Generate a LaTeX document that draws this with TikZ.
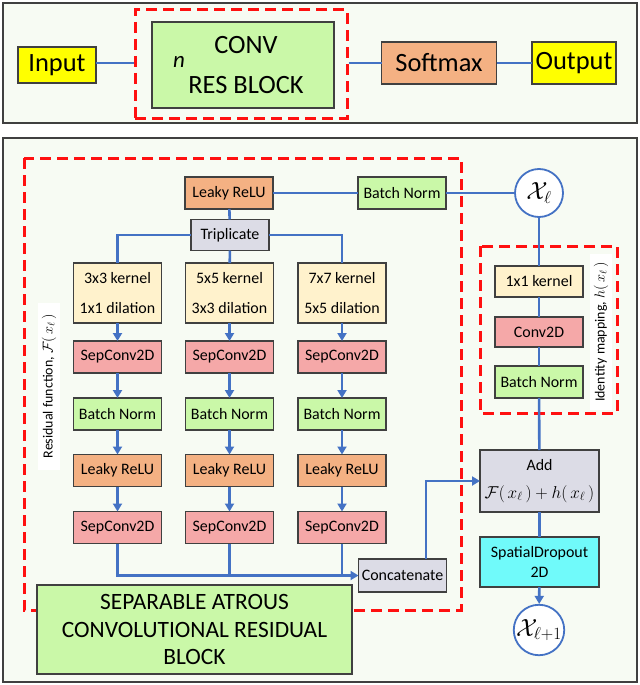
\documentclass[tikz,border=0pt]{standalone}
\usepackage{fontspec}
\setmainfont{Carlito}
\usetikzlibrary{arrows.meta}

\definecolor{cYellow}{HTML}{FFFF00}
\definecolor{cGreen}{HTML}{CAF8A8}
\definecolor{cOrange}{HTML}{F4B183}
\definecolor{cPink}{HTML}{F5A8A8}
\definecolor{cCream}{HTML}{FFF2CC}
\definecolor{cGray}{HTML}{DCDCE6}
\definecolor{cCyan}{HTML}{70FAFA}
\definecolor{cBlue}{HTML}{4472C4}
\definecolor{cRed}{HTML}{FF1010}
\definecolor{cPanel}{HTML}{F7FBF3}
\definecolor{cLine}{HTML}{404040}

\begin{document}
\begin{tikzpicture}[x=1bp,y=-1bp,
    panel/.style={draw=cLine,fill=cPanel,line width=1.6bp},
    box/.style={draw=cLine,line width=1.2bp,inner sep=0pt,outer sep=0pt,
        minimum width=88bp,minimum height=32bp,align=center,
        font=\fontsize{16}{18}\selectfont},
    bigbox/.style={box,font=\fontsize{26.5}{30}\selectfont},
    leaky/.style={box,fill=cOrange},
    sepconv/.style={box,fill=cPink},
    bnorm/.style={box,fill=cGreen},
    kernel/.style={box,fill=cCream,minimum height=60bp,
        font=\fontsize{16}{30}\selectfont},
    greybox/.style={box,fill=cGray},
    reddash/.style={draw=cRed,line width=3bp,dash pattern=on 11bp off 6bp},
    wire/.style={draw=cBlue,line width=2.6bp},
    flow/.style={wire,-{Triangle[length=8bp,width=9bp]}},
    xcircle/.style={circle,draw=cBlue,line width=1.8bp,fill=white,
        minimum size=48bp,inner sep=0pt,font=\fontsize{23}{24}\selectfont},
    sidelabel/.style={rotate=90,fill=white,inner sep=0pt,
        font=\fontsize{14}{16}\selectfont}]
    \useasboundingbox (0,0) rectangle (640,685);
    \fill[white] (0,0) rectangle (640,685);

    %% Top panel
    \draw[panel] (3,3) rectangle (637,123);
    \node[bigbox,fill=cYellow,minimum width=78bp,minimum height=36bp]
        (input) at (57,65) {Input};
    \node[bigbox,fill=cGreen,minimum width=182bp,minimum height=86bp,
        font=\fontsize{26.5}{40}\selectfont]
        (resblock) at (243,65) {\hspace*{6bp}CONV\\\hspace*{6bp}RES BLOCK};
    \node[font=\fontsize{23}{24}\selectfont\itshape] (nrep) at (179,62) {n};
    \node[reddash,minimum width=212bp,minimum height=108bp,inner sep=0pt]
        (resgroup) at (241,64) {};
    \node[bigbox,fill=cOrange,minimum width=115bp,minimum height=42bp]
        (softmax) at (439,63) {Softmax};
    \node[bigbox,fill=cYellow,minimum width=84bp,minimum height=42bp]
        (output) at (574,63) {Output};
    \draw[wire] (input.east |- softmax) -- (resgroup.west |- softmax);
    \draw[wire] (resgroup.east |- softmax) -- (softmax);
    \draw[wire] (softmax) -- (output);

    %% Bottom panel
    \draw[panel] (3,138) rectangle (637,682);
    \draw[reddash] (24,158) rectangle (461,610);
    \draw[reddash] (480,246) rectangle (617,413);

    %% Residual branch
    \node[leaky] (lrelu0) at (229,193) {Leaky ReLU};
    \node[bnorm] (bnorm0) at (402,193) {Batch Norm};
    \node[greybox,minimum width=78bp,minimum height=31bp] (trip) at (230,235) {Triplicate};
    \node[kernel] (k1) at (117.5,293) {3x3 kernel\\1x1 dilation};
    \node[kernel] (k2) at (229.5,293) {5x5 kernel\\3x3 dilation};
    \node[kernel] (k3) at (342,293) {7x7 kernel\\5x5 dilation};
    \foreach \c/\xpos in {1/117.5,2/229.5,3/342}{
        \node[sepconv] (sa\c) at (\xpos,357) {SepConv2D};
        \node[bnorm] (bn\c) at (\xpos,414) {Batch Norm};
        \node[leaky] (lr\c) at (\xpos,470.5) {Leaky ReLU};
        \node[sepconv] (sb\c) at (\xpos,527.5) {SepConv2D};
        \draw[flow] (k\c) -- (sa\c);
        \draw[flow] (sa\c) -- (bn\c);
        \draw[flow] (bn\c) -- (lr\c);
        \draw[flow] (lr\c) -- (sb\c);
    }
    \node[greybox,minimum width=88bp,minimum height=33bp] (concat) at (402.5,575.5) {Concatenate};
    \node[bigbox,fill=cGreen,minimum width=315bp,minimum height=89bp,
        font=\fontsize{23.5}{28}\selectfont]
        (sacrb) at (194.5,629.5) {SEPARABLE ATROUS\\CONVOLUTIONAL RESIDUAL\\BLOCK};
    \node[sidelabel,minimum width=167bp,minimum height=22bp]
        (reslabel) at (49,386) {Residual function, $\mathcal{F}(\,x_{\ell}\,)$};

    %% Identity branch
    \node[xcircle] (xl) at (539,193) {$\mathcal{X}_{\ell}$};
    \node[kernel,minimum height=31bp] (k0) at (539,281.5) {1x1 kernel};
    \node[sepconv,minimum height=30bp] (conv0) at (539,332) {Conv2D};
    \node[bnorm] (bn0) at (539,382) {Batch Norm};
    \node[sidelabel,minimum width=156bp,minimum height=22bp]
        (idlabel) at (601,332) {Identity mapping, $h(\,x_{\ell}\,)$};
    \node[greybox,minimum width=119bp,minimum height=62bp,
        font=\fontsize{16}{28}\selectfont]
        (add) at (539.5,481) {Add\\{\fontsize{16.5}{18}\selectfont$\mathcal{F}(\,x_{\ell}\,)+h(\,x_{\ell}\,)$}};
    \node[box,fill=cCyan,minimum width=119bp,minimum height=50bp,
        font=\fontsize{16}{20}\selectfont]
        (drop) at (539.5,562) {SpatialDropout\\2D};
    \node[xcircle] (xnext) at (539,630) {$\mathcal{X}_{\ell+1}$};

    %% Connectors
    \draw[wire] (lrelu0) -- (bnorm0);
    \draw[wire] (bnorm0) -- (xl);
    \draw[wire] (lrelu0) -- (trip);
    \draw[wire] (trip.west) -| (k1);
    \draw[wire] (trip) -- (k2);
    \draw[wire] (trip.east) -| (k3);
    \draw[flow] (sb1) |- (concat.west);
    \draw[wire] (sb2) -- (sb2 |- concat);
    \draw[wire] (sb3) -- (sb3 |- concat);
    \draw[flow] ([xshift=23.5bp]concat.north) |- (add.west);
    \draw[wire] (xl) -- (k0);
    \draw[wire] (k0) -- (conv0);
    \draw[wire] (conv0) -- (bn0);
    \draw[wire] (bn0) -- (add);
    \draw[wire] (add) -- (drop);
    \draw[flow] (drop) -- (xnext);
\end{tikzpicture}
\end{document}
